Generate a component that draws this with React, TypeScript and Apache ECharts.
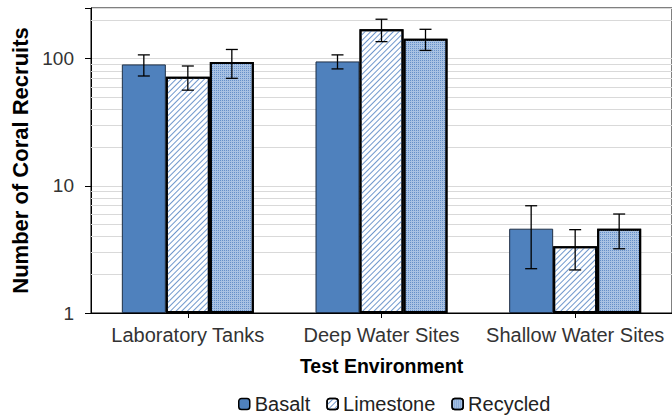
import React, { useEffect, useRef } from "react";
import * as echarts from "echarts";

const categories = ["Laboratory Tanks", "Deep Water Sites", "Shallow Water Sites"];
const seriesNames = ["Basalt", "Limestone", "Recycled"];
const basalt = [90, 95, 4.6];
const limestone = [72, 170, 3.35];
const recycled = [94, 143, 4.6];
const basaltErr = [17, 12, 2.37];
const limestoneErr = [15.5, 34, 1.17];
const recycledErr = [24, 27, 1.4];
const minorGrid = [2, 3, 4, 5, 6, 7, 8, 9, 20, 30, 40, 50, 60, 70, 80, 90, 200];
const majorTicks = [1, 10, 100];

const FONT = "Liberation Sans, Arial, sans-serif";
const BAR_W = 44;

export default function App() {
  const ref = useRef<HTMLDivElement>(null);
  useEffect(() => {
    if (!ref.current) return;
    const chart = echarts.init(ref.current, null, { renderer: "svg" });
    const values = [basalt, limestone, recycled];
    const errs = [basaltErr, limestoneErr, recycledErr];

    const barStyles: any[] = [
      { color: "#4f81bd", borderColor: "#1f2f45", borderWidth: 1 },
      {
        color: "#ffffff",
        borderColor: "#000000",
        borderWidth: 2,
        decal: {
          symbol: "rect",
          symbolSize: 1,
          color: "#6f97cc",
          dashArrayX: [1, 0],
          dashArrayY: [1, 2.5],
          rotation: -Math.PI / 4,
        },
      },
      {
        color: "#a9c2e3",
        borderColor: "#000000",
        borderWidth: 2,
        decal: {
          symbol: "rect",
          symbolSize: 1,
          color: "#6690c8",
          dashArrayX: [1, 1],
          dashArrayY: [1, 1],
          rotation: 0,
        },
      },
    ];

    const barSeries = seriesNames.map((name, i) => ({
      name,
      type: "bar",
      barWidth: BAR_W,
      barGap: "0%",
      z: 2,
      itemStyle: barStyles[i],
      data: values[i],
      markLine:
        i === 0
          ? {
              silent: true,
              z: 1,
              symbol: ["none", "none"],
              label: { show: false },
              lineStyle: { color: "#d9d9d9", width: 1, type: "solid" },
              data: minorGrid.map((v) => ({ yAxis: v })),
            }
          : undefined,
    }));

    const errSeries = seriesNames.map((name, i) => ({
      name: name + " error",
      type: "custom",
      z: 5,
      silent: true,
      data: values[i].map((v, c) => [c, v, errs[i][c]]),
      encode: { x: 0, y: 1 },
      renderItem: (params: any, api: any) => {
        const c = api.value(0);
        const v = api.value(1);
        const e = api.value(2);
        const hi = api.coord([c, v + e]);
        const lo = api.coord([c, v - e]);
        const x = hi[0] + (i - 1) * BAR_W;
        const cap = 6;
        const style = { stroke: "#000", lineWidth: 1.3 };
        return {
          type: "group",
          children: [
            { type: "line", shape: { x1: x, y1: hi[1], x2: x, y2: lo[1] }, style },
            { type: "line", shape: { x1: x - cap, y1: hi[1], x2: x + cap, y2: hi[1] }, style },
            { type: "line", shape: { x1: x - cap, y1: lo[1], x2: x + cap, y2: lo[1] }, style },
          ],
        };
      },
    }));

    chart.setOption({
      animation: false,
      textStyle: { fontFamily: FONT },
      grid: {
        left: 91,
        top: 8,
        width: 589,
        height: 305,
        show: true,
        borderColor: "#000",
        borderWidth: 1,
        backgroundColor: "transparent",
      },
      legend: {
        data: seriesNames,
        left: 238,
        top: 394,
        padding: 0,
        itemWidth: 11,
        itemHeight: 11,
        itemGap: 16,
        textStyle: { fontSize: 20, color: "#222", fontFamily: FONT },
        itemStyle: { borderColor: "#000", borderWidth: 1.5 },
      },
      xAxis: {
        type: "category",
        data: categories,
        name: "Test Environment",
        nameLocation: "middle",
        nameGap: 43,
        nameTextStyle: { fontSize: 19.5, fontWeight: "bold", color: "#000", fontFamily: FONT },
        axisLine: { lineStyle: { color: "#000", width: 1 } },
        axisTick: { show: true, alignWithLabel: true, length: 5, lineStyle: { color: "#000" } },
        axisLabel: { interval: 0, fontSize: 20, color: "#333", margin: 12, fontFamily: FONT },
        splitLine: { show: false },
      },
      yAxis: {
        type: "log",
        logBase: 10,
        min: 1,
        max: 250,
        name: "Number of Coral Recruits",
        nameLocation: "middle",
        nameGap: 54,
        nameTextStyle: { fontSize: 22, fontWeight: "bold", color: "#000", fontFamily: FONT },
        axisLine: { show: true, lineStyle: { color: "#000", width: 1 } },
        axisTick: { show: true, length: 6, lineStyle: { color: "#000" } },
        axisLabel: {
          fontSize: 19,
          color: "#333",
          margin: 17,
          fontFamily: FONT,
          formatter: (v: number) => (majorTicks.some((t) => Math.abs(t - v) < 1e-6) ? String(v) : ""),
        },
        splitLine: { show: true, lineStyle: { color: "#d9d9d9", width: 1 } },
      },
      series: [...barSeries, ...errSeries],
    });
    return () => chart.dispose();
  }, []);
  return (
    <div
      ref={ref}
      style={{ position: "fixed", left: 0, top: 0, width: 672, height: 416, background: "#fff" }}
    />
  );
}
